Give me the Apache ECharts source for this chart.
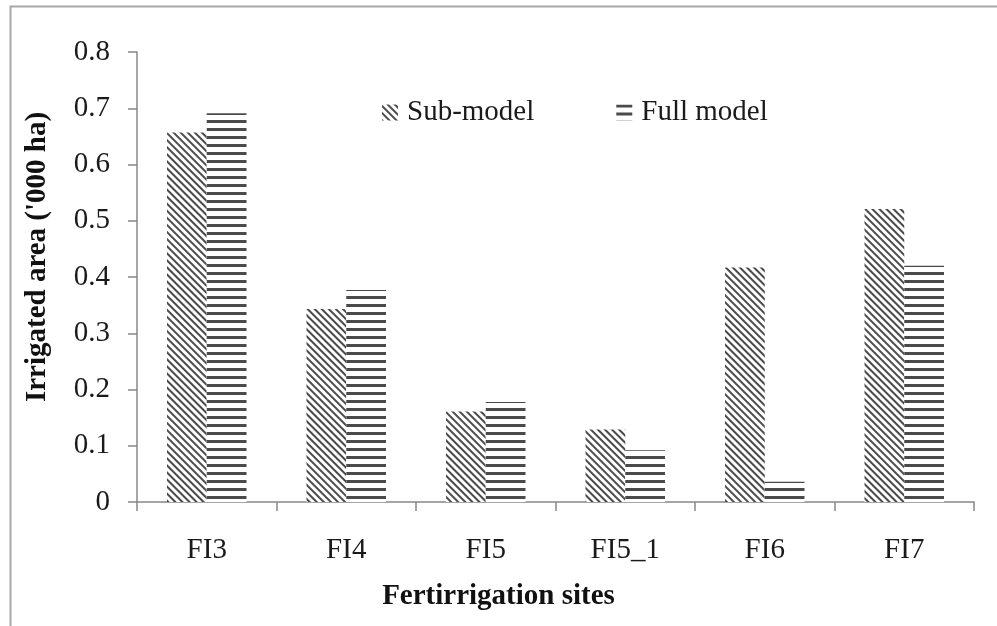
<!DOCTYPE html>
<html>
<head>
<meta charset="utf-8">
<script src="https://cdn.jsdelivr.net/npm/echarts@6/dist/echarts.min.js"></script>
<style>
html,body{margin:0;padding:0;background:#fff;}
#chart{width:997px;height:626px;}
</style>
</head>
<body>
<div id="chart"></div>
<script>
const categories = ['FI3', 'FI4', 'FI5', 'FI5_1', 'FI6', 'FI7'];
const subModel = [0.657, 0.343, 0.161, 0.129, 0.417, 0.521];
const fullModel = [0.691, 0.377, 0.178, 0.092, 0.036, 0.420];
const seriesNames = ['Sub-model', 'Full model'];

const FONT = '"Liberation Serif", "DejaVu Serif", serif';
const chart = echarts.init(document.getElementById('chart'));
chart.setOption({
  backgroundColor: '#fff',
  animation: false,
  graphic: [{
    type: 'rect',
    left: 8, top: 4,
    shape: { width: 1010, height: 621 },
    style: { fill: 'none', stroke: '#a8a8a8', lineWidth: 2 },
    silent: true
  }],
  grid: { left: 137, right: 23, top: 52, bottom: 124, containLabel: false },
  legend: {
    left: 377, top: 93,
    itemWidth: 16, itemHeight: 16, itemGap: 82,
    icon: 'rect',
    textStyle: { fontFamily: FONT, fontSize: 29, color: '#1a1a1a', padding: [0, 0, 0, 4] },
    data: seriesNames
  },
  xAxis: {
    type: 'category',
    data: categories,
    name: 'Fertirrigation sites',
    nameLocation: 'middle',
    nameGap: 80,
    nameTextStyle: { fontFamily: FONT, fontSize: 29, fontWeight: 'bold', color: '#111', padding: [0, 114, 0, 0] },
    axisLine: { lineStyle: { color: '#888', width: 1.5 } },
    axisTick: { show: true, length: 9, lineStyle: { color: '#888', width: 1.5 } },
    axisLabel: { margin: 34, fontFamily: FONT, fontSize: 29, color: '#1a1a1a' },
    splitLine: { show: false }
  },
  yAxis: {
    type: 'value',
    min: 0, max: 0.8, interval: 0.1,
    name: "Irrigated area ('000 ha)",
    nameLocation: 'middle',
    nameGap: 85,
    nameTextStyle: { fontFamily: FONT, fontSize: 29, fontWeight: 'bold', color: '#111', padding: [0, 0, 0, 40] },
    axisLine: { show: true, lineStyle: { color: '#888', width: 1.5 } },
    axisTick: { show: true, length: 9, lineStyle: { color: '#888', width: 1.5 } },
    axisLabel: {
      margin: 27, fontFamily: FONT, fontSize: 29, color: '#1a1a1a',
      formatter: v => (v === 0 ? '0' : v.toFixed(1))
    },
    splitLine: { show: false }
  },
  series: [
    {
      name: seriesNames[0],
      type: 'bar',
      data: subModel,
      barGap: '0%',
      barCategoryGap: '43%',
      itemStyle: {
        color: '#fff',
        decal: { symbol: 'rect', symbolSize: 1, color: '#4a4a4a', dashArrayX: [1, 0], dashArrayY: [2, 2.5], rotation: Math.PI / 4 }
      }
    },
    {
      name: seriesNames[1],
      type: 'bar',
      data: fullModel,
      barGap: '0%',
      barCategoryGap: '43%',
      itemStyle: {
        color: '#fff',
        decal: { symbol: 'rect', symbolSize: 1, color: '#4a4a4a', dashArrayX: [1, 0], dashArrayY: [3, 5], rotation: 0 }
      }
    }
  ]
});
</script>
</body>
</html>
